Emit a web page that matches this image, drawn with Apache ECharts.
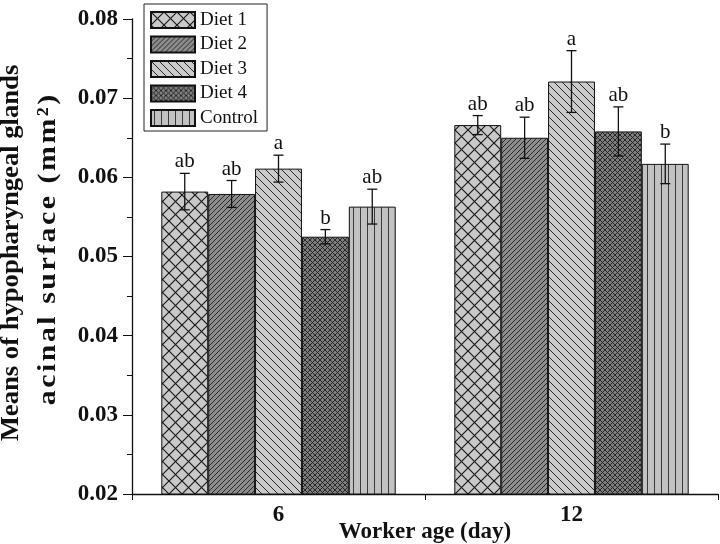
<!DOCTYPE html>
<html><head><meta charset="utf-8">
<script src="https://cdn.jsdelivr.net/npm/echarts@6/dist/echarts.min.js"></script>
<style>html,body{margin:0;padding:0;background:#fff}#c{width:720px;height:544px}</style>
</head><body><div id="c"></div>
<script>
const categories = ['6', '12'];
const seriesNames = ['Diet 1', 'Diet 2', 'Diet 3', 'Diet 4', 'Control'];
const diet1 = [0.0582, 0.0666];
const diet2 = [0.0579, 0.0650];
const diet3 = [0.0611, 0.0721];
const diet4 = [0.0525, 0.0658];
const control = [0.0563, 0.0617];
const err1 = [0.0023, 0.0012];
const err2 = [0.0017, 0.0026];
const err3 = [0.0017, 0.0039];
const err4 = [0.0009, 0.0031];
const errC = [0.0022, 0.0025];
const letters1 = ['ab', 'ab'];
const letters2 = ['ab', 'ab'];
const letters3 = ['a', 'a'];
const letters4 = ['b', 'ab'];
const lettersC = ['ab', 'b'];
const yTicks = [0.02, 0.03, 0.04, 0.05, 0.06, 0.07, 0.08];
const yTitle1 = 'Means of hypopharyngeal glands';
const yTitle2 = 'acinal surface (mm²)';
const xTitle = 'Worker age (day)';

const means = [diet1, diet2, diet3, diet4, control];
const errs = [err1, err2, err3, err4, errC];
const letters = [letters1, letters2, letters3, letters4, lettersC];

function makePattern(size, bg, draw) {
  const c = document.createElement('canvas');
  c.width = size; c.height = size;
  const g = c.getContext('2d');
  g.fillStyle = bg; g.fillRect(0, 0, size, size);
  g.strokeStyle = '#1a1a1a';
  draw(g, size);
  return { image: c, repeat: 'repeat' };
}
function diagUp(g, s) { // "/"
  g.beginPath();
  g.moveTo(0, s); g.lineTo(s, 0);
  g.moveTo(-1, 1); g.lineTo(1, -1);
  g.moveTo(s - 1, s + 1); g.lineTo(s + 1, s - 1);
  g.stroke();
}
function diagDown(g, s) { // "\"
  g.beginPath();
  g.moveTo(0, 0); g.lineTo(s, s);
  g.moveTo(s - 1, -1); g.lineTo(s + 1, 1);
  g.moveTo(-1, s - 1); g.lineTo(1, s + 1);
  g.stroke();
}
const patterns = [
  makePattern(13, '#c9c9c9', (g, s) => { g.lineWidth = 1.2; diagUp(g, s); diagDown(g, s); }),
  makePattern(5, '#8c8c8c', (g, s) => { g.lineWidth = 1; g.strokeStyle = '#2a2a2a'; diagUp(g, s); }),
  makePattern(8, '#cacaca', (g, s) => { g.lineWidth = 1; g.strokeStyle = '#2a2a2a'; diagDown(g, s); }),
  makePattern(5, '#7d7d7d', (g, s) => { g.lineWidth = 0.9; g.strokeStyle = '#1e1e1e'; diagUp(g, s); diagDown(g, s); }),
  makePattern(7, '#c2c2c2', (g, s) => { g.lineWidth = 1; g.strokeStyle = '#3a3a3a'; g.beginPath(); g.moveTo(3.5, 0); g.lineTo(3.5, s); g.stroke(); })
];

const serif = '"Liberation Serif", "Times New Roman", serif';
const series = [];
seriesNames.forEach((name, k) => {
  series.push({
    name: name, type: 'bar',
    data: means[k],
    barGap: '0%', barCategoryGap: '20%',
    itemStyle: { color: patterns[k], borderColor: '#111', borderWidth: 1 }
  });
});
seriesNames.forEach((name, k) => {
  series.push({
    name: 'err' + k, type: 'custom', z: 5,
    data: categories.map((c, i) => [i, means[k][i], errs[k][i]]),
    encode: { x: 0, y: 1 },
    renderItem: function (params, api) {
      const ci = api.value(0), m = api.value(1), e = api.value(2);
      const letter = letters[k][params.dataIndex];
      const c = api.coord([ci, m]);
      const band = api.size([1, 0])[0];
      const x = c[0] - 0.4 * band + (k + 0.5) * 0.16 * band;
      const top = api.coord([ci, m + e])[1];
      const bot = api.coord([ci, m - e])[1];
      const st = { stroke: '#111', lineWidth: 1.3 };
      return { type: 'group', children: [
        { type: 'line', shape: { x1: x, y1: top, x2: x, y2: bot }, style: st },
        { type: 'line', shape: { x1: x - 5, y1: top, x2: x + 5, y2: top }, style: st },
        { type: 'line', shape: { x1: x - 5, y1: bot, x2: x + 5, y2: bot }, style: st },
        { type: 'text', style: { text: letter, x: x, y: top - 1, align: 'center', verticalAlign: 'bottom', font: '21px ' + serif, fill: '#111' } }
      ]};
    }
  });
});

const spaced = s => s.split('').join('\u200A');

const chart = echarts.init(document.getElementById('c'));
chart.setOption({
  animation: false,
  backgroundColor: '#fff',
  grid: { left: 132, right: 2, top: 19, bottom: 50, outerBoundsMode: 'none', containLabel: false },
  legend: {
    data: seriesNames, orient: 'vertical', left: 144, top: 4,
    borderColor: '#222', borderWidth: 1, padding: [6, 9, 3, 6],
    itemWidth: 44, itemHeight: 16, itemGap: 4.5,
    textStyle: { fontFamily: serif, fontSize: 19, color: '#111', lineHeight: 20 },
    icon: 'rect'
  },
  xAxis: {
    type: 'category', data: categories,
    axisLine: { lineStyle: { color: '#111', width: 1.3 } },
    axisTick: { show: true, length: 6, lineStyle: { color: '#111' } },
    axisLabel: { fontFamily: serif, fontWeight: 'bold', fontSize: 23, color: '#111', margin: 10 },
    name: xTitle, nameLocation: 'middle', nameGap: 27, nameMoveOverlap: false,
    nameTextStyle: { fontFamily: serif, fontWeight: 'bold', fontSize: 23, color: '#111' }
  },
  yAxis: {
    type: 'value', min: yTicks[0], max: yTicks[yTicks.length - 1], interval: 0.01,
    axisLine: { show: true, lineStyle: { color: '#111', width: 1.3 } },
    axisTick: { show: true, length: 9, lineStyle: { color: '#111' } },
    minorTick: { show: true, splitNumber: 2, length: 5, lineStyle: { color: '#111' } },
    splitLine: { show: false },
    axisLabel: { fontFamily: serif, fontWeight: 'bold', fontSize: 23, color: '#111', margin: 14, formatter: v => v.toFixed(2) }
  },
  graphic: [
    { type: 'text', x: 12, y: 253, rotation: Math.PI / 2, scaleX: 1.065,
      style: { text: yTitle1, font: 'bold 25px ' + serif, fill: '#111', align: 'center', verticalAlign: 'middle' } },
    { type: 'text', x: 48, y: 250, rotation: Math.PI / 2, scaleX: 1.15,
      style: { text: spaced(yTitle2), font: 'bold 26px ' + serif, fill: '#111', align: 'center', verticalAlign: 'middle' } }
  ],
  series: series
});
</script></body></html>
